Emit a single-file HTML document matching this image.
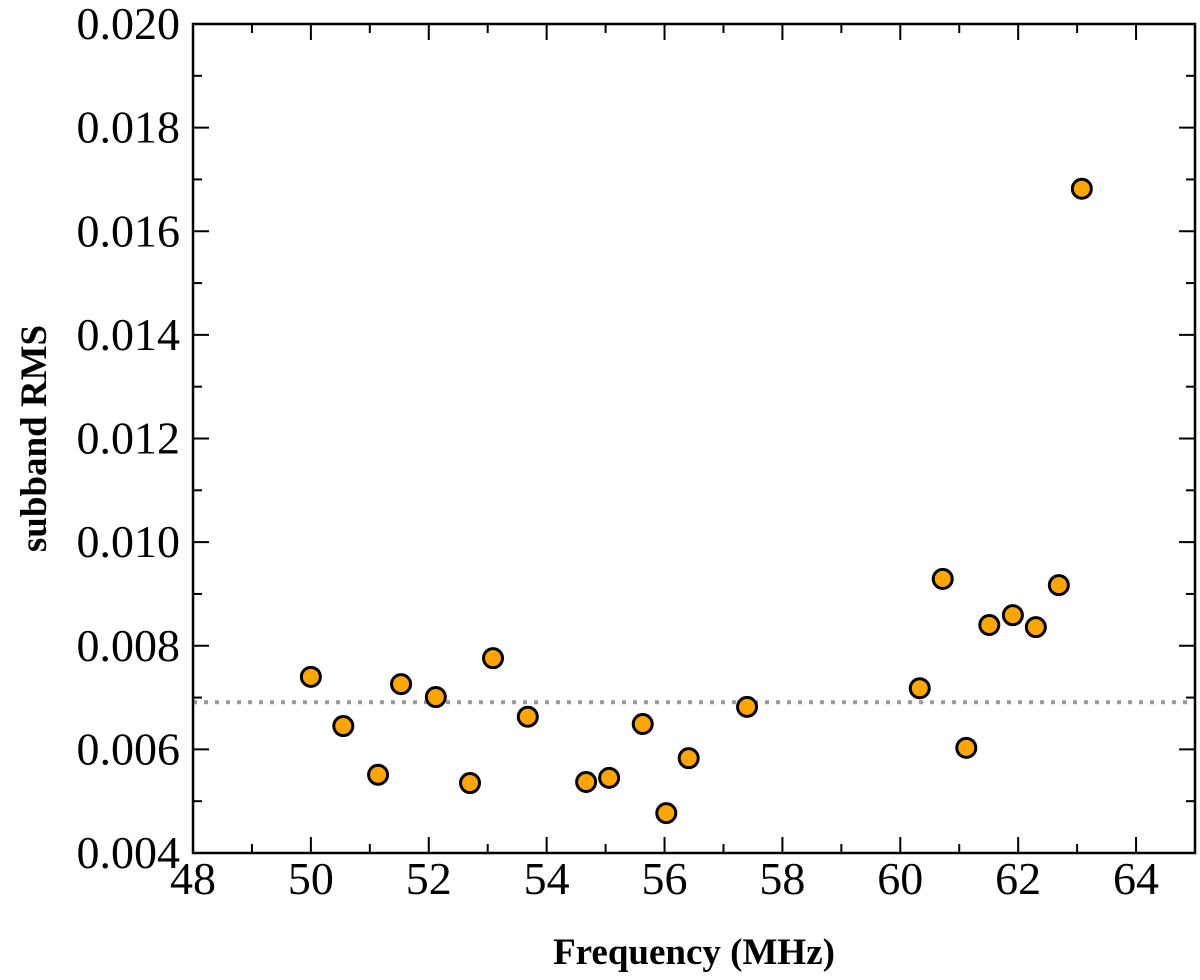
<!DOCTYPE html>
<html><head><meta charset="utf-8"><style>
html,body{margin:0;padding:0;background:#fff;}
svg{display:block;font-family:"Liberation Serif","DejaVu Serif",serif;}
</style></head><body>
<svg id="chart" width="1200" height="980"></svg>
<script>
const xVals=[50.0,50.55,51.14,51.53,52.12,52.70,53.09,53.68,54.67,55.06,55.63,56.03,56.41,57.40,60.33,60.72,61.12,61.51,61.91,62.30,62.69,63.08];
const yVals=[0.00740,0.00645,0.00551,0.00726,0.00701,0.00535,0.00776,0.00663,0.00537,0.00545,0.00649,0.00477,0.00583,0.00682,0.00718,0.00929,0.00603,0.00840,0.00859,0.00836,0.00917,0.01682];
const refLevel=0.00691;
const xTicks=[48,50,52,54,56,58,60,62,64];
const yTicks=[0.004,0.006,0.008,0.010,0.012,0.014,0.016,0.018,0.020];
const L=193,R=1195,T=24,B=853,x0=48,x1=65,y0=0.004,y1=0.020;
const sx=v=>L+(v-x0)/(x1-x0)*(R-L);
const sy=v=>B-(v-y0)/(y1-y0)*(B-T);
const NS="http://www.w3.org/2000/svg",svg=document.getElementById('chart');
function mk(t,a,p){const e=document.createElementNS(NS,t);for(const k in a)e.setAttribute(k,a[k]);(p||svg).appendChild(e);return e;}
const rl=mk('line',{x1:L,x2:R,y1:sy(refLevel),y2:sy(refLevel),stroke:'#999',"stroke-width":4,"stroke-dasharray":"4,7"});


for(let v=x0;v<=x1;v+=1){const x=sx(v),len=(v%2===0)?16:9;
 mk('line',{x1:x,x2:x,y1:B,y2:B-len,stroke:'#000',"stroke-width":2});
 mk('line',{x1:x,x2:x,y1:T,y2:T+len,stroke:'#000',"stroke-width":2});}
for(let i=0;i<=16;i++){const v=y0+i*0.001,y=sy(v),len=(i%2===0)?16:9;
 mk('line',{x1:L,x2:L+len,y1:y,y2:y,stroke:'#000',"stroke-width":2});
 mk('line',{x1:R,x2:R-len,y1:y,y2:y,stroke:'#000',"stroke-width":2});}
xTicks.forEach(v=>{const t=mk('text',{x:sx(v),y:B+41,"text-anchor":"middle","font-size":46});t.textContent=v;
 });
yTicks.forEach(v=>{const t=mk('text',{x:L-13,y:sy(v)+15,"text-anchor":"end","font-size":46});t.textContent=v.toFixed(3);
 });
const fr=mk('rect',{x:L,y:T,width:R-L,height:B-T,fill:'none',stroke:'#000',"stroke-width":2.5});

xVals.forEach((v,i)=>{const c=mk('circle',{cx:sx(v),cy:sy(yVals[i]),r:9.5,fill:'#ffa500',stroke:'#000',"stroke-width":3});
 });
const xt=mk('text',{x:(L+R)/2,y:964,"text-anchor":"middle","font-size":37,"font-weight":"bold"});xt.textContent='Frequency (MHz)';

const yt=mk('text',{x:0,y:0,"text-anchor":"middle","font-size":37,"font-weight":"bold",transform:`translate(46,${(T+B)/2}) rotate(-90)`});yt.textContent='subband RMS';

</script>
</body></html>
